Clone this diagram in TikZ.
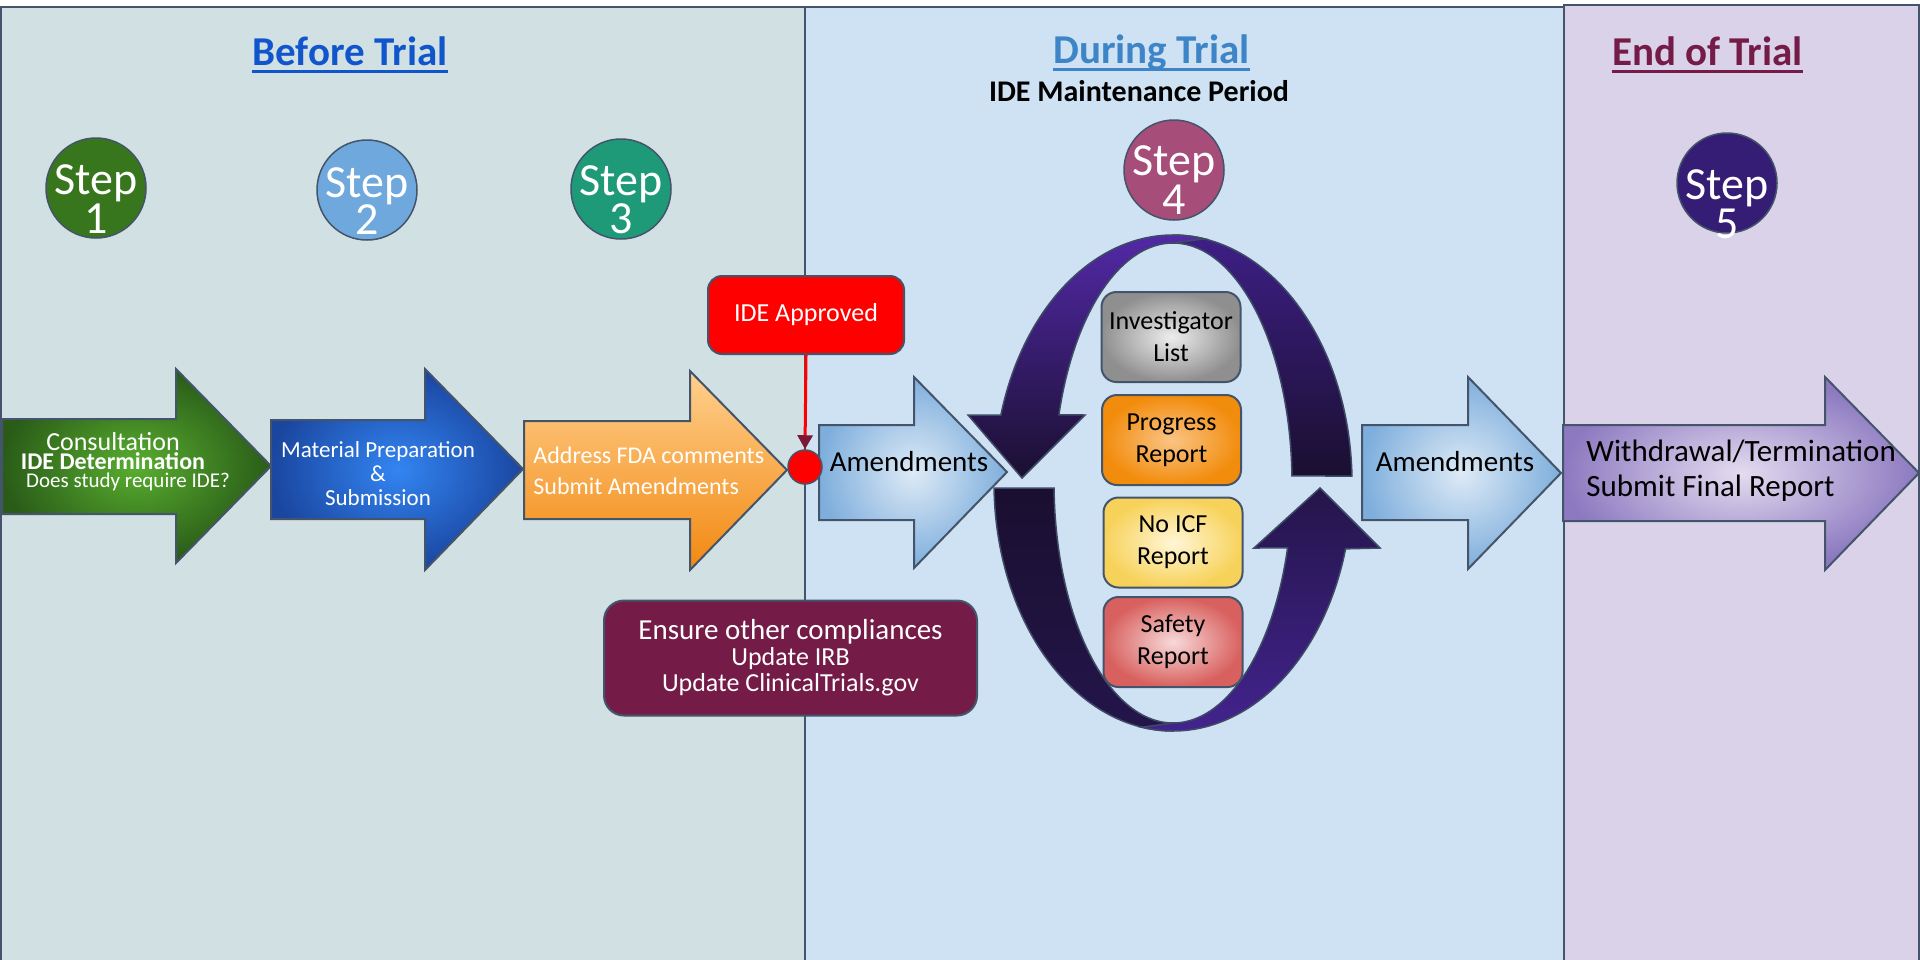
\documentclass[tikz,border=0pt]{standalone}
\usepackage{fontspec}
\setmainfont{Carlito}
\usetikzlibrary{arrows.meta}

% palette
\definecolor{edge}{HTML}{44546A}
\definecolor{beforebg}{HTML}{D0E0E3}
\definecolor{duringbg}{HTML}{CFE2F3}
\definecolor{endbg}{HTML}{D9D2E9}
\definecolor{hdrblue}{HTML}{1155CC}
\definecolor{hdrsky}{HTML}{3D85C6}
\definecolor{hdrplum}{HTML}{741B47}
\definecolor{stepA}{HTML}{38761D}
\definecolor{stepB}{HTML}{6FA8DC}
\definecolor{stepC}{HTML}{1E9A78}
\definecolor{stepD}{HTML}{A64D79}
\definecolor{stepE}{HTML}{351C75}
\definecolor{greenin}{HTML}{58AE2F}
\definecolor{greenout}{HTML}{2A5C18}
\definecolor{bluein}{HTML}{3385F2}
\definecolor{blueout}{HTML}{1A46A0}
\definecolor{orangetop}{HTML}{FFD08E}
\definecolor{orangebot}{HTML}{F28810}
\definecolor{amendin}{HTML}{DDEAF6}
\definecolor{amendout}{HTML}{7EAEDC}
\definecolor{finalin}{HTML}{E4DCF0}
\definecolor{finalout}{HTML}{8C79C0}
\definecolor{ringlight}{HTML}{5229A6}
\definecolor{ringmid}{HTML}{3E1F86}
\definecolor{ringlow}{HTML}{43238E}
\definecolor{ringshade}{HTML}{24154A}
\definecolor{ringdark}{HTML}{1A0F30}
\definecolor{ringline}{HTML}{3E4A66}
\definecolor{tipmaroon}{HTML}{7A1838}
\definecolor{grayin}{HTML}{EDEDED}
\definecolor{grayout}{HTML}{8F8F8F}
\definecolor{progin}{HTML}{FAC485}
\definecolor{progout}{HTML}{F28C0C}
\definecolor{icfin}{HTML}{FFF6D6}
\definecolor{icfout}{HTML}{F7D25A}
\definecolor{safein}{HTML}{F7D9D9}
\definecolor{safeout}{HTML}{D8605E}

\begin{document}
\begin{tikzpicture}[x=0.5pt,y=-0.5pt,
  panel/.style={draw=edge,line width=1pt},
  header/.style={inner sep=0pt,anchor=base,font=\bfseries\fontsize{20.5}{20.5}\selectfont},
  stepdisc/.style={circle,draw=edge,line width=0.75pt,minimum size=50pt,inner sep=0pt},
  steplbl/.style={inner sep=0pt,anchor=base,text=white,font=\fontsize{23}{23}\selectfont},
  blockarrow/.style={draw=edge,line width=1pt},
  ringpart/.style={draw=ringline,line width=0.75pt},
  txt/.style={inner sep=0pt},
  report/.style={rounded corners=7.5pt,draw=edge,line width=1pt,inner sep=0pt,
    minimum width=69.5pt,minimum height=45pt,align=center,
    font=\fontsize{13}{16}\selectfont},
  callout/.style={rounded corners=7pt,draw=edge,line width=1pt,inner sep=0pt,text=white}
]
\useasboundingbox (0,0) rectangle (1920,959);
\clip (0,0) rectangle (1920,959);
\fill[white] (0,0) rectangle (1920,959);

% three phase panels
\path[panel,fill=beforebg] (1,7) rectangle (805,990);
\path[panel,fill=duringbg] (805,7) rectangle (1564,990);
\path[panel,fill=endbg] (1564,5) rectangle (1919,990);

% phase headings
\node[header,text=hdrblue] (hbefore) at (350,65) {Before Trial};
\draw[hdrblue,line width=1.5pt] ([yshift=-3pt]hbefore.base west) -- ([yshift=-3pt]hbefore.base east);
\node[header,text=hdrsky] (hduring) at (1151.5,63) {During Trial};
\draw[hdrsky,line width=1.5pt] ([yshift=-3pt]hduring.base west) -- ([yshift=-3pt]hduring.base east);
\node[header,text=hdrplum] (hend) at (1707.5,65) {End of Trial};
\draw[hdrplum,line width=1.5pt] ([yshift=-3pt]hend.base west) -- ([yshift=-3pt]hend.base east);
\node[txt,anchor=base,font=\bfseries\fontsize{15}{15}\selectfont] (hmaint) at (1139,101) {IDE Maintenance Period};

% step discs
\node[stepdisc,fill=stepA] (s1) at (96,188) {};
\node[steplbl] (s1a) at (96,194) {Step};
\node[steplbl] (s1b) at (96,233) {1};
\node[stepdisc,fill=stepB] (s2) at (367,190) {};
\node[steplbl] (s2a) at (367,197) {Step};
\node[steplbl] (s2b) at (367,234) {2};
\node[stepdisc,fill=stepC] (s3) at (621,189) {};
\node[steplbl] (s3a) at (621,195) {Step};
\node[steplbl] (s3b) at (621,233) {3};
\node[stepdisc,fill=stepD] (s4) at (1174,170) {};
\node[steplbl] (s4a) at (1174,175) {Step};
\node[steplbl] (s4b) at (1174,214) {4};
\node[stepdisc,fill=stepE] (s5) at (1727,183) {};
\node[steplbl] (s5a) at (1727,199) {Step};
\node[steplbl] (s5b) at (1727,238) {5};

% maintenance cycle, upper arrow: tail on the right, passes under the left half at the top
\path[ringpart,top color=ringmid,bottom color=ringdark]
  plot[domain=-1.6:-90,samples=60] ({1173+179*cos(\x)},{483+248*sin(\x)})
  -- plot[domain=-90:-1.7,samples=60] ({1173+119*cos(\x)},{483+240*sin(\x)})
  -- cycle;
% upper arrow, left half with the head pointing down
\path[ringpart,top color=ringlight,bottom color=ringdark]
  plot[domain=-80:-164.1,samples=70] ({1173+179*cos(\x)},{483+248*sin(\x)})
  -- (968,415) -- (1022,478) -- (1085,415)
  -- plot[domain=-163.5:-90,samples=60] ({1173+119*cos(\x)},{483+240*sin(\x)})
  -- cycle;
% lower arrow, left half with the tail
\path[ringpart,top color=ringdark,bottom color=ringshade]
  plot[domain=178.8:90,samples=60] ({1173+179*cos(\x)},{483+248*sin(\x)})
  -- plot[domain=90:178.8,samples=60] ({1173+119*cos(\x)},{483+240*sin(\x)})
  -- cycle;
% lower arrow, right half with the head pointing up
\path[ringpart,top color=ringshade,bottom color=ringlow]
  plot[domain=100:15.4,samples=70] ({1173+179*cos(\x)},{483+248*sin(\x)})
  -- (1380,548) -- (1320,488) -- (1254,548)
  -- plot[domain=15.7:90,samples=60] ({1173+119*cos(\x)},{483+240*sin(\x)})
  -- cycle;

% maintenance reports
\node[report,inner color=grayin,outer color=grayout] (rinv) at (1171,337) {Investigator\\List};
\node[report,inner color=progin,outer color=progout] (rprog) at (1171.5,440) {Progress\\Report};
\node[report,inner color=icfin,outer color=icfout] (ricf) at (1173,542.5) {No ICF\\Report};
\node[report,inner color=safein,outer color=safeout] (rsafe) at (1173,642) {Safety\\Report};

% process arrows
\path[blockarrow,inner color=greenin,outer color=greenout]
  (2,419) -- (176,419) -- (176,369) -- (271,466) -- (176,563) -- (176,514) -- (2,514) -- cycle;
\path[blockarrow,inner color=bluein,outer color=blueout]
  (271,420) -- (425,420) -- (425,369) -- (523,469) -- (425,570) -- (425,519) -- (271,519) -- cycle;
\path[blockarrow,top color=orangetop,bottom color=orangebot]
  (524,421) -- (690,421) -- (690,371) -- (787,470) -- (690,570) -- (690,519) -- (524,519) -- cycle;
\path[blockarrow,inner color=amendin,outer color=amendout]
  (819,425) -- (914,425) -- (914,377) -- (1007,472) -- (914,568) -- (914,520) -- (819,520) -- cycle;
\path[blockarrow,inner color=amendin,outer color=amendout]
  (1362,425) -- (1468,425) -- (1468,377) -- (1561,473) -- (1468,569) -- (1468,520) -- (1362,520) -- cycle;
\path[blockarrow,inner color=finalin,outer color=finalout]
  (1563,425) -- (1825,425) -- (1825,377) -- (1919,473) -- (1825,570) -- (1825,521) -- (1563,521) -- cycle;

% arrow captions
\node[txt,align=center,text=white,font=\fontsize{13}{9.2}\selectfont] (tconsult) at (113,462)
  {Consultation\\{\bfseries\fontsize{12}{9.2}\selectfont IDE Determination}\\{\fontsize{10.5}{9.2}\selectfont\hspace*{15pt}Does study require IDE?}};
\node[txt,align=center,text=white,font=\fontsize{11.5}{12}\selectfont] (tmaterial) at (378,474)
  {Material Preparation\\\&\\Submission};
\node[txt,align=left,anchor=west,text=white,font=\fontsize{12}{15.5}\selectfont] (taddress) at (533,471)
  {Address FDA comments\\Submit Amendments};
\node[txt,anchor=base,font=\fontsize{14.5}{14.5}\selectfont] (tamend1) at (909,471) {Amendments};
\node[txt,anchor=base,font=\fontsize{14.5}{14.5}\selectfont] (tamend2) at (1455,471) {Amendments};
\node[txt,align=left,anchor=west,font=\fontsize{15.5}{17.5}\selectfont] (tfinal) at (1586,471)
  {Withdrawal/Termination\\Submit Final Report};

% approval milestone
\node[callout,fill=red,minimum width=98pt,minimum height=39pt,font=\fontsize{13}{13}\selectfont] (ide) at (806,315) {IDE Approved};
\node[circle,draw=edge,line width=0.75pt,fill=red,minimum size=17pt,inner sep=0pt] (dot) at (805,467) {};
\draw[red,line width=1.5pt,-{Triangle[length=7pt,width=7.5pt,color=tipmaroon]}] (ide.south) -- (dot.north);

% other compliance note
\node[callout,rounded corners=10pt,fill=hdrplum,minimum width=186.5pt,minimum height=57.5pt,align=center,
  font=\fontsize{13}{13}\selectfont] (comply) at (790.5,658)
  {{\fontsize{14.5}{13}\selectfont Ensure other compliances}\\Update IRB\\Update ClinicalTrials.gov};
\end{tikzpicture}
\end{document}
